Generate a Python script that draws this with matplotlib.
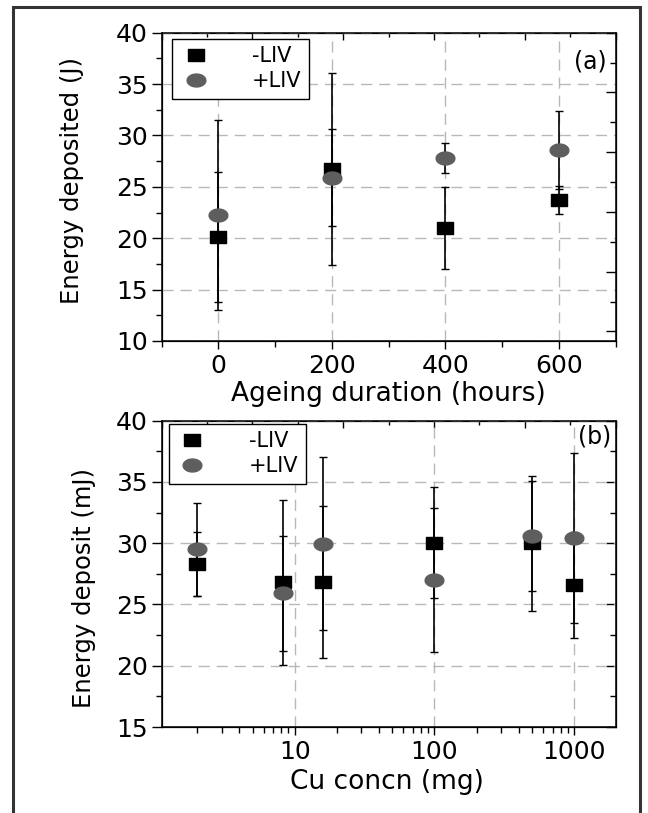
import numpy as np
import matplotlib
matplotlib.use("Agg")
import matplotlib.pyplot as plt
import matplotlib.ticker as mticker
from matplotlib.patches import Rectangle

plt.rcParams['font.family'] = ['DejaVu Sans']

# panel (a): ageing duration
hours = [0, 200, 400, 600]
minus_a = [20.1, 26.7, 21.0, 23.75]
minus_a_err = [6.3, 9.35, 4.0, 1.35]
plus_a = [22.3, 25.9, 27.8, 28.6]
plus_a_err = [9.25, 4.7, 1.45, 3.8]

# panel (b): Cu concentration
cu = [2.0, 8.3, 16.0, 100.0, 500.0, 1000.0]
minus_b = [28.3, 26.8, 26.8, 30.05, 30.0, 26.6]
minus_b_err = [2.6, 6.7, 6.2, 4.55, 5.5, 4.3]
plus_b = [29.5, 25.9, 29.95, 27.0, 30.6, 30.45]
plus_b_err = [3.8, 4.7, 7.05, 5.9, 4.5, 6.95]

labels = ["-LIV", "+LIV"]

# slightly wide marker shapes (the original is stretched sideways)
t = np.linspace(0, 2 * np.pi, 48)
ellipse = list(zip(1.45 * np.cos(t), np.sin(t)))
rect = [(-1.23, -1), (1.23, -1), (1.23, 1), (-1.23, 1), (-1.23, -1)]

GRAY = "#5e5e5e"
GRID = dict(color="#b8b8b8", linestyle=(0, (8, 5)), linewidth=1.0)

fig = plt.figure(figsize=(6.48, 8.13), dpi=100)
W, H = 648, 813


def add_axes(left, right, top, bottom):
    return fig.add_axes([left / W, 1 - bottom / H, (right - left) / W, (bottom - top) / H])


def draw(ax, x, m, me, p, pe):
    ax.errorbar(x, m, yerr=me, fmt="none", ecolor="k", elinewidth=1.2,
                capsize=2.8, capthick=1.0, zorder=3)
    ax.errorbar(x, p, yerr=pe, fmt="none", ecolor="k", elinewidth=1.2,
                capsize=2.8, capthick=1.0, zorder=3)
    h1, = ax.plot(x, m, linestyle="none", marker=rect, ms=11.5, color="k",
                  mec="k", zorder=4, label=labels[0])
    h2, = ax.plot(x, p, linestyle="none", marker=ellipse, ms=13.5, color=GRAY,
                  mec=GRAY, zorder=5, label=labels[1])
    return [h1, h2]


def style_main(ax):
    for s in ax.spines.values():
        s.set_linewidth(1.1)
    ax.tick_params(which="both", direction="out", top=False, right=False,
                   labelsize=18, pad=3, width=1.0)
    ax.tick_params(which="major", length=7)
    ax.tick_params(which="minor", length=4)
    ax.tick_params(axis="x", which="major", length=6)
    ax.grid(True, which="major", **GRID)
    ax.set_axisbelow(True)


def top_ticks(ax):
    tw = ax.twiny()
    tw.set_xlim(0, 500)
    tw.xaxis.set_major_locator(mticker.MultipleLocator(100))
    tw.xaxis.set_minor_locator(mticker.MultipleLocator(50))
    tw.tick_params(which="both", direction="in", labeltop=False, top=True, width=1.0)
    tw.tick_params(which="major", length=5)
    tw.tick_params(which="minor", length=3)
    tw.set_zorder(0)
    return tw


def right_ticks(ax, lo, hi):
    tw = ax.twinx()
    tw.set_ylim(lo, hi)
    tw.yaxis.set_major_locator(mticker.MultipleLocator(5))
    tw.yaxis.set_minor_locator(mticker.MultipleLocator(2.5))
    tw.tick_params(which="both", direction="in", labelright=False, right=True, width=1.0)
    tw.tick_params(which="major", length=7)
    tw.tick_params(which="minor", length=4)
    tw.set_zorder(0)
    return tw


def legend(ax, anchor):
    hs = ax.get_legend_handles_labels()[0]
    leg = ax.legend(hs, labels, loc="upper left", bbox_to_anchor=anchor,
                    borderaxespad=0, fontsize=15, fancybox=False,
                    edgecolor="k", framealpha=1, handlelength=1.6,
                    handletextpad=1.9, borderpad=0.35, labelspacing=0.25)
    leg.get_frame().set_linewidth(1.0)
    leg.set_zorder(10)


# ---- panel (a)
ax1 = add_axes(161.7, 615.5, 32.7, 341)
top_ticks(ax1)
right_ticks(ax1, 9.2, 35)
ax1.set_zorder(2)
ax1.patch.set_visible(False)
draw(ax1, hours, minus_a, minus_a_err, plus_a, plus_a_err)
ax1.set_xlim(-100, 700)
ax1.set_ylim(10, 40)
ax1.xaxis.set_major_locator(mticker.MultipleLocator(200))
ax1.xaxis.set_minor_locator(mticker.MultipleLocator(100))
ax1.yaxis.set_major_locator(mticker.MultipleLocator(5))
ax1.yaxis.set_minor_locator(mticker.MultipleLocator(2.5))
style_main(ax1)
ax1.set_xlabel("Ageing duration (hours)", fontsize=19)
ax1.set_ylabel("Energy deposited (J)", fontsize=17.5)
ax1.xaxis.set_label_coords(0.499, -0.172)
ax1.xaxis.label.set_va("center")
ax1.yaxis.set_label_coords(-0.198, 0.522)
ax1.yaxis.label.set_va("center")
legend(ax1, (0.022, 0.98))
ax1.text(0.981, 0.908, "(a)", transform=ax1.transAxes, ha="right",
         va="center", fontsize=17)

# ---- panel (b)
ax2 = add_axes(161.7, 615.5, 420.7, 727)
top_ticks(ax2)
right_ticks(ax2, 15, 40)
ax2.set_zorder(2)
ax2.patch.set_visible(False)
draw(ax2, cu, minus_b, minus_b_err, plus_b, plus_b_err)
ax2.set_xscale("log")
ax2.set_xlim(1.12, 1970)
ax2.set_ylim(15, 40)
ax2.xaxis.set_major_locator(mticker.LogLocator(base=10))
ax2.xaxis.set_minor_locator(mticker.LogLocator(base=10, subs=np.arange(2, 10)))
ax2.xaxis.set_major_formatter(mticker.FormatStrFormatter("%d"))
ax2.xaxis.set_minor_formatter(mticker.NullFormatter())
ax2.yaxis.set_major_locator(mticker.MultipleLocator(5))
ax2.yaxis.set_minor_locator(mticker.MultipleLocator(2.5))
style_main(ax2)
ax2.set_xlabel("Cu concn (mg)", fontsize=19)
ax2.set_ylabel("Energy deposit (mJ)", fontsize=17.5)
ax2.xaxis.set_label_coords(0.497, -0.178)
ax2.xaxis.label.set_va("center")
ax2.yaxis.set_label_coords(-0.171, 0.454)
ax2.yaxis.label.set_va("center")
legend(ax2, (0.015, 0.99))
ax2.text(0.991, 0.95, "(b)", transform=ax2.transAxes, ha="right",
         va="center", fontsize=17)

# outer frame of the original figure
fig.add_artist(Rectangle((13 / W, -0.05), (640 - 13) / W, 1.05 - 7 / H,
                         transform=fig.transFigure, fill=False,
                         linewidth=2.2, edgecolor="#333333"))

fig.savefig("out.png", dpi=100)
